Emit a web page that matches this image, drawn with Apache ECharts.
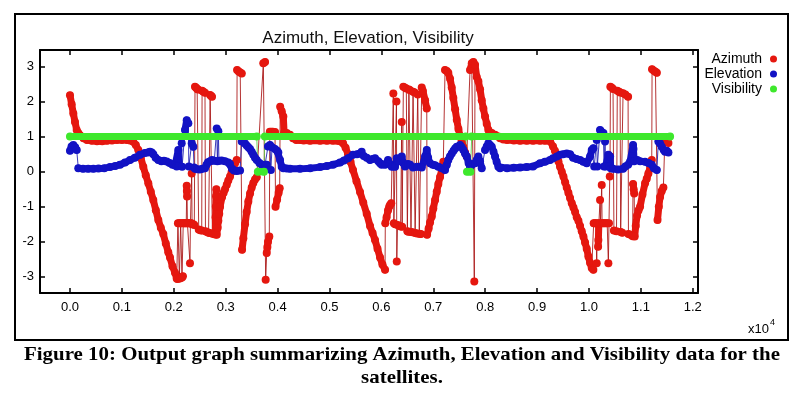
<!DOCTYPE html>
<html><head><meta charset="utf-8">
<script src="https://cdn.jsdelivr.net/npm/echarts/dist/echarts.min.js"></script>
<style>html,body{margin:0;padding:0;background:#fff}#c{width:800px;height:394px}</style>
</head><body><div id="c"></div>
<script>
const titleText = 'Azimuth, Elevation, Visibility';
const seriesNames = ['Azimuth', 'Elevation', 'Visibility'];
const xTicks = [0, 1000, 2000, 3000, 4000, 5000, 6000, 7000, 8000, 9000, 10000, 11000, 12000];
const yTicks = [-3, -2, -1, 0, 1, 2, 3];
const xScaleLabel = 'x10';
const xScaleExp = '4';
const caption1 = 'Figure 10: Output graph summarizing Azimuth, Elevation and Visibility data for the';
const caption2 = 'satellites.';

// [time (s), azimuth (rad)]
const azimuth = [
[0,2.18],[32,1.92],[64,1.66],[96,1.42],[129,1.19],[160,1.1],[193,1.04],[260,0.95],[328,0.9],[420,0.88],[520,0.87],[620,0.87],[713,0.88],[810,0.89],[906,0.9],[1000,0.9],[1098,0.9],[1156,0.89],[1220,0.85],[1268,0.76],[1316,0.62],[1364,0.4],[1412,0.14],[1460,-0.1],[1509,-0.33],[1557,-0.57],[1605,-0.81],[1654,-1.1],[1702,-1.38],[1750,-1.6],[1798,-1.78],[1846,-2.05],[1894,-2.3],[1927,-2.45],[1975,-2.7],[2023,-2.88],[2056,-3.05],
[2070,-3.06],[2080,-1.47],[2100,-1.47],[2108,-3.05],[2125,-3.04],[2132,-1.47],[2150,-1.47],[2158,-3.02],[2175,-2.98],[2182,-1.47],[2200,-1.47],[2220,-1.47],[2240,-1.47],[2249,-0.4],[2252,-0.55],[2256,-0.71],[2262,-1.47],[2280,-1.47],[2300,-1.47],[2312,-2.61],[2320,-1.47],[2340,-1.47],[2345,-0.05],[2352,-1.5],[2376,-1.5],[2395,-1.52],
[2409,2.42],[2430,2.39],[2450,2.36],[2467,2.34],[2480,-1.65],[2510,-1.67],[2538,-1.68],[2545,2.31],[2570,2.28],[2601,2.25],[2610,-1.7],[2640,-1.72],[2670,-1.74],[2690,-1.75],[2700,2.19],[2720,2.16],[2736,2.14],[2745,-1.77],[2780,-1.78],[2800,-1.79],[2805,-1.3],[2810,-1.0],[2815,-0.7],[2820,-0.5],[2827,-1.8],[2845,-1.6],[2858,-1.4],[2875,-1.2],[2891,-1.0],[2930,-0.72],[2960,-0.6],[2987,-0.5],[3020,-0.37],[3050,-0.25],[3083,-0.14],[3115,0.0],[3147,0.14],[3180,0.24],[3212,0.33],
[3220,2.9],[3250,2.86],[3280,2.83],[3309,2.8],[3315,-2.23],[3340,-1.9],[3372,-1.5],[3404,-1.15],[3436,-0.85],[3469,-0.62],[3501,-0.45],[3532,-0.32],[3565,-0.22],[3598,-0.16],
[3725,3.09],[3758,3.13],[3770,-3.08],[3790,-2.32],[3803,-2.15],[3815,-2.0],[3840,-1.85],[3850,1.14],[3880,1.14],[3910,1.14],[3950,1.13],[3960,-1.0],[3990,-0.8],[4020,-0.6],[4040,-0.47],[4050,1.85],[4079,1.72],[4110,1.57],[4125,1.12],[4176,1.1],[4239,1.05],[4297,0.95],[4360,0.9],[4432,0.9],
[4500,0.89],[4625,0.88],[4818,0.88],[4950,0.88],[5068,0.88],[5150,0.88],[5203,0.87],[5261,0.81],[5310,0.68],[5357,0.5],[5405,0.28],[5453,0.05],[5520,-0.27],[5588,-0.58],[5650,-0.88],[5717,-1.2],[5781,-1.55],[5830,-1.75],[5877,-1.95],[5925,-2.2],[5974,-2.45],[6020,-2.65],[6070,-2.8],
[6075,-1.47],[6100,-1.3],[6128,-1.1],[6150,-1.0],[6166,-0.95],[6190,-0.9],[6230,2.23],[6240,-1.47],[6263,-1.5],[6290,2.0],[6296,-2.56],[6310,-1.52],[6340,-1.54],[6370,-1.56],[6392,1.42],[6400,-1.57],[6423,2.42],[6455,2.39],[6480,2.37],[6500,-1.7],[6520,-1.71],[6530,2.34],[6552,2.32],[6570,-1.72],[6600,-1.73],[6610,2.28],[6640,2.26],[6650,-1.75],[6687,-1.76],[6700,2.2],[6730,-1.77],[6760,-1.78],[6777,2.4],[6800,2.3],[6841,2.04],[6874,1.8],[6880,-1.8],[6910,-1.62],[6937,-1.45],[6970,-1.28],[7000,-1.05],[7034,-0.81],[7066,-0.57],[7097,-0.35],[7130,-0.15],[7163,0.05],[7193,0.28],
[7226,2.9],[7260,2.87],[7289,2.82],[7323,2.65],[7355,2.4],[7386,2.1],[7420,1.78],[7452,1.48],[7484,1.22],[7515,1.02],[7547,0.85],[7579,0.7],[7612,0.55],[7644,0.43],
[7708,2.9],[7741,3.09],[7772,3.13],[7790,-3.13],[7804,3.05],[7837,2.7],[7868,2.58],[7901,2.35],[7933,2.04],[7965,1.8],[7997,1.57],[8029,1.37],[8061,1.19],[8094,1.12],[8126,1.1],[8190,1.05],[8254,1.0],[8286,0.95],[8350,0.92],[8421,0.9],
[8550,0.89],[8672,0.88],[8800,0.88],[8922,0.88],[9057,0.88],[9150,0.88],[9250,0.87],[9307,0.72],[9343,0.6],[9379,0.45],[9410,0.3],[9442,0.14],[9475,0.0],[9507,-0.14],[9540,-0.3],[9571,-0.45],[9603,-0.6],[9635,-0.75],[9668,-0.9],[9700,-1.02],[9732,-1.15],[9764,-1.3],[9796,-1.4],[9828,-1.55],[9860,-1.7],[9892,-1.85],[9924,-2.02],[9956,-2.2],[9988,-2.42],[10020,-2.6],[10053,-2.75],[10084,-2.8],
[10090,-1.47],[10110,-1.47],[10130,-1.47],[10149,-2.61],[10160,-1.47],[10175,-2.14],[10180,-1.95],[10190,-1.47],[10213,-0.81],[10222,-1.47],[10245,-0.38],[10252,-1.47],[10277,-1.47],[10300,-1.47],[10330,-1.47],[10350,-1.47],[10373,-2.61],[10385,-1.47],[10400,-0.14],[10406,0.43],[10412,2.42],[10440,2.39],[10463,2.36],[10480,-1.68],[10530,-1.7],[10545,2.31],[10580,2.28],[10599,2.26],[10610,-1.72],[10640,-1.74],[10656,2.24],[10700,2.2],[10753,2.14],[10760,-1.78],[10800,-1.8],[10840,-1.84],[10849,-0.35],[10860,-0.5],[10870,-0.62],[10880,-1.85],[10900,-1.55],[10926,-1.25],[10955,-1.1],[10984,-1.0],[11030,-0.65],[11080,-0.33],[11112,-0.2],[11144,-0.05],[11180,0.14],[11209,0.33],
[11215,2.92],[11250,2.88],[11280,2.85],[11306,2.82],[11320,-1.38],[11345,-1.0],[11369,-0.72],[11402,-0.55],[11433,-0.45],[11460,0.85],[11498,0.88],[11530,0.82]
];

// [time (s), elevation (rad)]
const elevation = [
[0,0.6],[30,0.72],[64,0.76],[100,0.7],[129,0.62],[160,0.1],[250,0.08],[350,0.08],[450,0.08],[550,0.09],[660,0.1],[770,0.13],[870,0.16],[964,0.2],[1060,0.26],[1156,0.33],[1250,0.4],[1349,0.48],[1440,0.53],[1500,0.55],[1542,0.57],[1575,0.55],[1605,0.5],[1650,0.4],[1702,0.33],[1760,0.3],[1810,0.31],[1863,0.29],[1920,0.25],[1975,0.2],[2023,0.18],[2056,0.15],
[2087,0.62],[2095,0.16],[2152,0.81],[2160,0.14],[2216,1.19],[2249,1.47],[2280,1.38],[2290,0.15],[2345,0.81],[2376,0.71],[2390,0.12],[2409,0.08],[2450,0.07],[2500,0.06],[2550,0.08],[2601,0.1],[2630,0.2],[2659,0.27],[2700,0.3],[2736,0.33],[2780,0.31],[2827,1.23],[2840,0.3],[2858,1.15],[2870,0.31],[2920,0.32],[2987,0.3],[3050,0.26],[3083,0.22],[3122,0.08],[3160,0.03],[3212,0.02],[3276,0.03],
[3309,0.86],[3340,0.86],[3372,0.8],[3404,0.75],[3436,0.7],[3469,0.65],[3501,0.57],[3532,0.48],[3565,0.4],[3598,0.33],[3650,0.25],[3694,0.2],[3758,0.2],[3790,0.2],[3815,0.72],[3854,0.76],[3870,0.05],[3893,0.7],[3950,0.65],[3990,0.6],[4014,0.55],[4047,0.33],[4079,0.14],[4110,0.1],[4176,0.09],[4239,0.08],[4432,0.08],[4625,0.1],[4818,0.13],[4950,0.16],[5068,0.2],[5203,0.26],[5280,0.32],[5357,0.38],[5453,0.48],[5530,0.5],[5588,0.52],[5620,0.57],[5660,0.45],[5717,0.4],[5781,0.33],[5830,0.36],[5877,0.38],[5940,0.3],[5974,0.24],[6006,0.2],[6070,0.2],
[6128,0.33],[6160,0.22],[6200,0.14],[6263,0.14],[6296,0.38],[6340,0.3],[6392,0.43],[6420,0.25],[6455,0.15],[6513,0.22],[6552,0.2],[6610,0.12],[6687,0.14],[6777,0.12],[6841,0.43],[6874,0.62],[6900,0.4],[6937,0.24],[6990,0.2],[7034,0.18],[7097,0.14],[7163,0.1],[7226,0.05],[7260,0.2],[7289,0.33],[7320,0.43],[7355,0.52],[7390,0.6],[7420,0.66],[7452,0.71],[7515,0.76],[7547,0.7],[7579,0.62],[7612,0.52],[7644,0.43],[7680,0.25],[7708,0.1],[7740,0.2],[7804,0.24],[7836,0.33],[7868,0.43],[7900,0.3],[7933,0.1],[7997,0.62],[8029,0.72],[8061,0.81],[8094,0.76],[8126,0.71],[8160,0.57],[8190,0.43],[8220,0.28],[8254,0.14],[8286,0.1],[8421,0.1],
[8550,0.11],[8672,0.12],[8800,0.13],[8922,0.15],[9057,0.24],[9150,0.28],[9250,0.33],[9307,0.38],[9380,0.43],[9442,0.48],[9500,0.5],[9571,0.52],[9635,0.5],[9693,0.4],[9760,0.36],[9828,0.33],[9890,0.28],[9956,0.24],[10020,0.43],[10053,0.62],[10084,0.67],[10100,0.15],[10149,0.9],[10160,0.15],[10213,1.19],[10230,1.15],[10277,1.1],[10290,0.15],[10309,0.86],[10320,0.15],[10373,0.48],[10390,0.15],[10406,0.43],[10420,0.1],[10463,0.08],[10560,0.06],[10656,0.08],[10700,0.15],[10753,0.2],[10790,0.28],[10824,0.3],[10849,0.76],[10856,0.65],[10870,0.3],[10930,0.33],[10984,0.3],[11080,0.28],[11144,0.25],[11209,0.2],[11250,0.1],[11306,0.05],[11337,0.86],[11369,0.8],[11402,0.71],[11440,0.62],[11466,0.57],[11498,0.6],[11530,0.55]
];

// [time (s), visibility flag]
const visibility = [
[0,1],[3598,1],[3620,0],[3735,0],[3755,1],[7625,1],[7650,0],[7715,0],[7740,1],[11562,1]
];

const colors = ['#e5170f', '#1212c4', '#3ee82c'];
const thinColors = ['#a81010', '#1818b0', '#55cc44'];

function banded(data, thr) {
  const out = [];
  for (let i = 0; i < data.length; i++) {
    if (i > 0 && Math.abs(data[i][1] - data[i - 1][1]) > thr) {
      out.push([(data[i][0] + data[i - 1][0]) / 2, '-']);
    }
    out.push(data[i]);
  }
  return out;
}

const allData = [azimuth, elevation, visibility];
const series = [];
allData.forEach((d, i) => {
  series.push({
    name: '_thin' + i, type: 'line', data: d, symbol: 'none', silent: true,
    lineStyle: { width: 1, color: thinColors[i], opacity: 0.85 }, z: 1, animation: false
  });
});
allData.forEach((d, i) => {
  series.push({
    name: seriesNames[i], type: 'line', data: banded(d, 0.5), connectNulls: false,
    symbol: 'circle', symbolSize: 8, showSymbol: true, showAllSymbol: true,
    itemStyle: { color: colors[i], borderWidth: 0 },
    lineStyle: { width: 7, color: colors[i], cap: 'round', join: 'round' },
    z: 2 + i, animation: false
  });
});

const xMin = -578, xMax = 12100, yMin = -3.46, yMax = 3.47;
const font = 'Liberation Sans';
const axisLineStyle = { color: '#000', width: 2 };
const tickStyle = { color: '#000', width: 1.5 };

const chart = echarts.init(document.getElementById('c'), null, { renderer: 'canvas' });
chart.setOption({
  backgroundColor: '#fff',
  animation: false,
  title: {
    text: titleText, left: 368, textAlign: 'center', top: 30, padding: 0,
    textStyle: { fontSize: 17, fontWeight: 'normal', color: '#111', fontFamily: font }
  },
  legend: {
    data: seriesNames, orient: 'vertical', right: 23, top: 52, align: 'right',
    icon: 'circle', itemWidth: 7, itemHeight: 7, itemGap: 1, padding: 0,
    textStyle: { fontSize: 14, color: '#000', fontFamily: font, lineHeight: 14, padding: [0, 3, 0, 0] }
  },
  grid: { left: 40, right: 102, top: 50, bottom: 101, containLabel: false },
  xAxis: [
    {
      type: 'value', min: xMin, max: xMax, position: 'bottom',
      axisLine: { show: true, onZero: false, lineStyle: axisLineStyle },
      axisTick: { show: true, inside: true, length: 5, customValues: xTicks, lineStyle: tickStyle },
      axisLabel: { customValues: xTicks, formatter: v => (v / 10000).toFixed(1), color: '#000', fontSize: 13, margin: 8, fontFamily: font },
      splitLine: { show: false }
    },
    {
      type: 'value', min: xMin, max: xMax, position: 'top',
      axisLine: { show: true, onZero: false, lineStyle: axisLineStyle },
      axisTick: { show: true, inside: true, length: 5, customValues: xTicks, lineStyle: tickStyle },
      axisLabel: { show: false }, splitLine: { show: false }
    }
  ],
  yAxis: [
    {
      type: 'value', min: yMin, max: yMax, position: 'left',
      axisLine: { show: true, onZero: false, lineStyle: axisLineStyle },
      axisTick: { show: true, inside: true, length: 5, customValues: yTicks, lineStyle: tickStyle },
      axisLabel: { customValues: yTicks, formatter: v => String(Math.round(v)), color: '#000', fontSize: 13, margin: 6, fontFamily: font },
      splitLine: { show: false }
    },
    {
      type: 'value', min: yMin, max: yMax, position: 'right',
      axisLine: { show: true, onZero: false, lineStyle: axisLineStyle },
      axisTick: { show: true, inside: true, length: 5, customValues: yTicks, lineStyle: tickStyle },
      axisLabel: { show: false }, splitLine: { show: false }
    }
  ],
  series: series,
  graphic: [
    { type: 'rect', shape: { x: 15, y: 14, width: 773, height: 326 }, style: { fill: 'none', stroke: '#000', lineWidth: 2 }, z: 10 },
    { type: 'text', x: 748, y: 329, style: { text: xScaleLabel, font: '13px "Liberation Sans"', fill: '#000', textAlign: 'left', textVerticalAlign: 'middle', verticalAlign: 'middle' } },
    { type: 'text', x: 770, y: 323, style: { text: xScaleExp, font: '9px "Liberation Sans"', fill: '#000', textAlign: 'left', textVerticalAlign: 'middle', verticalAlign: 'middle' } },
    { type: 'text', x: 402, y: 355, scaleX: 1.1, style: { text: caption1, font: 'bold 19px "Liberation Serif"', fill: '#000', x: 0, y: 0, textAlign: 'center', textVerticalAlign: 'middle', verticalAlign: 'middle' } },
    { type: 'text', x: 402, y: 378, scaleX: 1.1, style: { text: caption2, font: 'bold 19px "Liberation Serif"', fill: '#000', x: 0, y: 0, textAlign: 'center', textVerticalAlign: 'middle', verticalAlign: 'middle' } }
  ]
});
</script>
</body></html>
